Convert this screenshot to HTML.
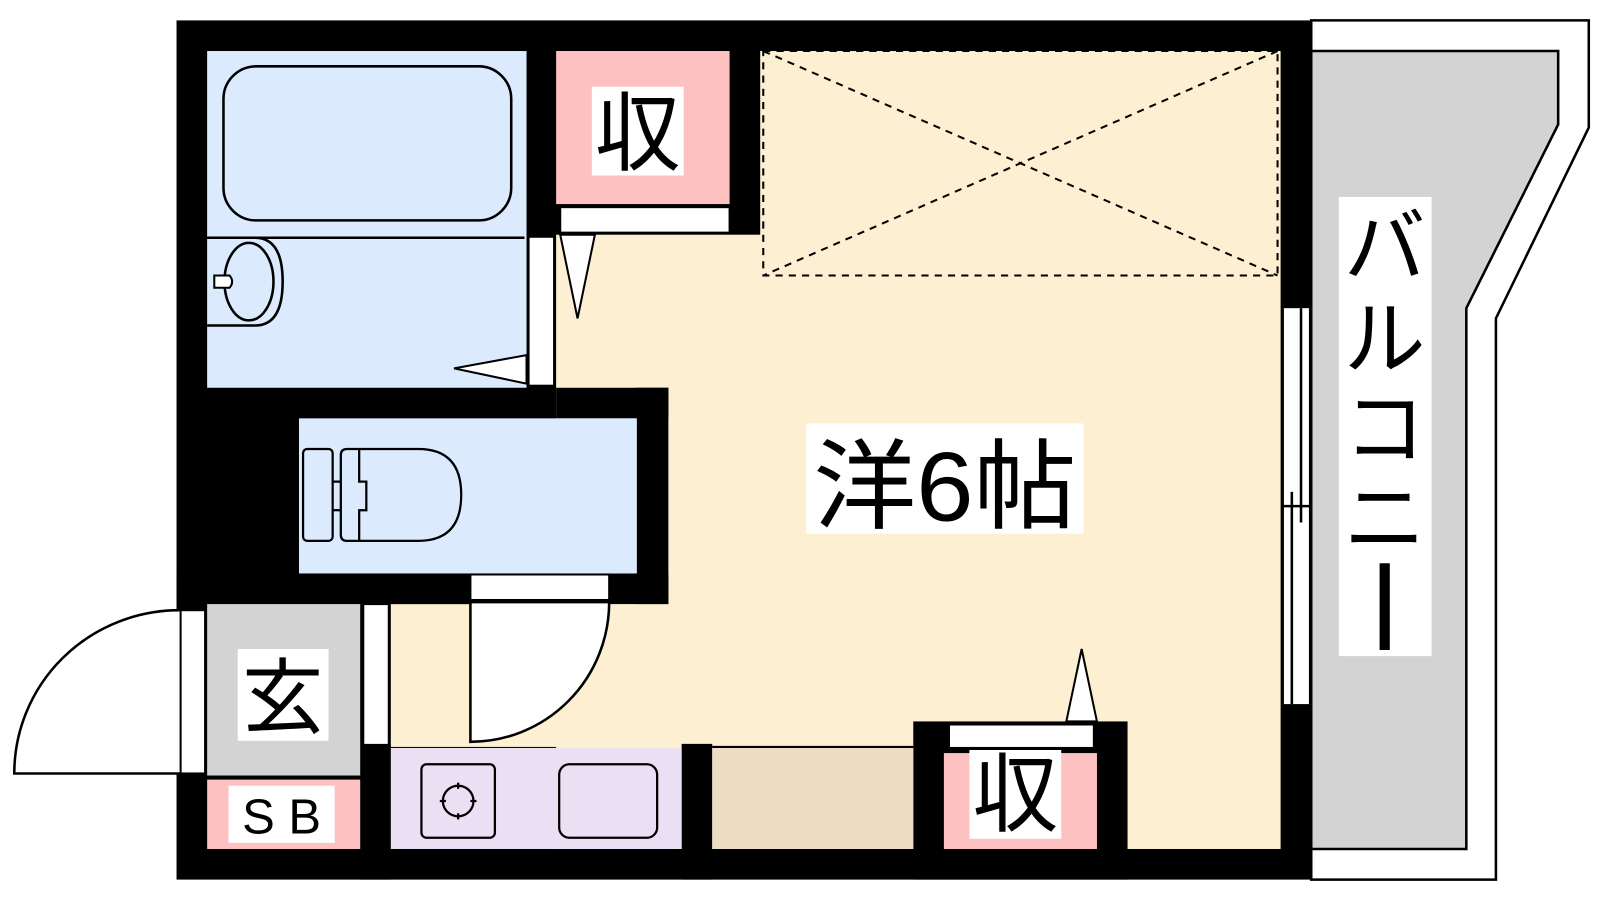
<!DOCTYPE html>
<html><head><meta charset="utf-8"><style>
html,body{margin:0;padding:0;background:#fff;width:1600px;height:900px;overflow:hidden}
svg{display:block}
text{font-family:"Liberation Sans","Noto Sans CJK JP",sans-serif;fill:#000}
</style></head><body>
<svg width="1600" height="900" viewBox="0 0 1568 882" preserveAspectRatio="none" xmlns="http://www.w3.org/2000/svg">
<!-- balcony -->
<polygon points="1285,20 1557,20 1557,125 1466,312 1466,862 1285,862" fill="#fff" stroke="#000" stroke-width="2.5"/>
<polygon points="1285,50 1527,50 1527,122 1437,302 1437,832 1285,832" fill="#d3d3d3" stroke="#000" stroke-width="2.5"/>
<!-- outer black -->
<rect x="173" y="20" width="1112" height="842" fill="#000"/>
<!-- room -->
<rect x="745" y="50" width="510" height="782" fill="#fdf0d2"/>
<rect x="545" y="230" width="215" height="602" fill="#fdf0d2"/>
<rect x="655" y="380" width="100" height="452" fill="#fdf0d2"/>
<rect x="383" y="592" width="300" height="140" fill="#fdf0d2"/>
<!-- black walls on top of room fill -->
<g fill="#000">
<rect x="545" y="380" width="110" height="30"/>
<rect x="624" y="380" width="31" height="212"/>
<rect x="173" y="562" width="482" height="30"/>
<rect x="353" y="730" width="30" height="132"/>
<rect x="668" y="729" width="30" height="133"/>
<rect x="895" y="707" width="210" height="155"/>
</g>
<!-- dashed rect -->
<g stroke="#000" stroke-width="2" stroke-dasharray="7,6" fill="none">
<rect x="748" y="50" width="504" height="220"/>
<line x1="748" y1="50" x2="1252" y2="270"/>
<line x1="1252" y1="50" x2="748" y2="270"/>
</g>
<!-- bath -->
<rect x="203" y="50" width="313" height="330" fill="#dbeafd"/>
<rect x="219" y="65" width="282" height="151" rx="32" fill="none" stroke="#000" stroke-width="2.5"/>
<line x1="203" y1="233" x2="514" y2="233" stroke="#000" stroke-width="2.5"/>
<path d="M203,233 H250 Q277,233 277,276 Q277,319 250,319 H203" fill="none" stroke="#000" stroke-width="2.5"/>
<ellipse cx="244" cy="276" rx="24" ry="38" fill="none" stroke="#000" stroke-width="2.5"/>
<path d="M210,270 H225 Q230,276 225,282 H210 Z" fill="#fff" stroke="#000" stroke-width="2"/>
<rect x="518" y="232" width="25" height="146" fill="#fff" stroke="#000" stroke-width="2"/>
<polygon points="516,348 445,361 516,376" fill="#fff" stroke="#000" stroke-width="2"/>
<!-- top closet -->
<rect x="545" y="50" width="170" height="150" fill="#fdc1c1"/>
<rect x="580" y="85" width="90" height="87" fill="#fff"/>
<text x="625" y="160" font-size="84" text-anchor="middle">収</text>
<rect x="549" y="203" width="166" height="25" fill="#fff" stroke="#000" stroke-width="2"/>
<polygon points="549,230 566,312 583,230" fill="#fff" stroke="#000" stroke-width="2"/>
<!-- toilet -->
<rect x="293" y="410" width="331" height="152" fill="#dbeafd"/>
<rect x="461" y="563" width="136" height="25" fill="#fff" stroke="#000" stroke-width="2"/>
<path d="M461,590 V727 A136,137 0 0 0 597,590 Z" fill="#fff" stroke="#000" stroke-width="2.5"/>
<g fill="none" stroke="#000" stroke-width="2.2">
<rect x="297" y="440" width="29" height="90" rx="4"/>
<path d="M340,440 H410 Q452,440 452,485 Q452,530 410,530 H340 Q334,530 334,524 V446 Q334,440 340,440 Z"/>
<path d="M352,440 V472 H359 V500 H352 V530"/>
<line x1="326" y1="472" x2="334" y2="472"/><line x1="326" y1="500" x2="334" y2="500"/>
</g>
<!-- entrance -->
<rect x="203" y="592" width="150" height="168" fill="#d3d3d3"/>
<rect x="233" y="636" width="89" height="90" fill="#fff"/>
<text x="277" y="712" font-size="80" text-anchor="middle">玄</text>
<rect x="177" y="598" width="24" height="160" fill="#fff" stroke="#000" stroke-width="2"/>
<path d="M176,598 A162,160 0 0 0 14,758 H176" fill="#fff" stroke="#000" stroke-width="2.5"/>
<rect x="356" y="592" width="25" height="138" fill="#fff" stroke="#000" stroke-width="2"/>
<!-- SB -->
<rect x="203" y="764" width="150" height="68" fill="#fdc1c1"/>
<rect x="224" y="770" width="104" height="56" fill="#fff"/>
<text x="276" y="817" font-size="48" text-anchor="middle">S B</text>
<!-- kitchen -->
<rect x="383" y="733" width="285" height="99" fill="#ebdff4"/>
<g fill="none" stroke="#000" stroke-width="2.2">
<rect x="413" y="749" width="72" height="72" rx="5"/>
<circle cx="449" cy="785" r="15"/>
<line x1="449" y1="767" x2="449" y2="773"/><line x1="449" y1="797" x2="449" y2="803"/>
<line x1="431" y1="785" x2="437" y2="785"/><line x1="461" y1="785" x2="467" y2="785"/>
<rect x="548" y="749" width="96" height="72" rx="10"/>
</g>
<rect x="698" y="733" width="197" height="99" fill="#ecdcc3"/>
<line x1="698" y1="732" x2="895" y2="732" stroke="#000" stroke-width="2"/>
<!-- bottom closet -->
<rect x="925" y="738" width="150" height="94" fill="#fdc1c1"/>
<rect x="950" y="735" width="90" height="87" fill="#fff"/>
<text x="995" y="808" font-size="84" text-anchor="middle">収</text>
<rect x="930" y="710" width="142" height="23" fill="#fff" stroke="#000" stroke-width="2"/>
<polygon points="1045,707 1060,636 1075,707" fill="#fff" stroke="#000" stroke-width="2"/>
<!-- window -->
<rect x="1256" y="302" width="29" height="388" fill="#fff"/>
<g stroke="#000" stroke-width="2.5">
<line x1="1257" y1="302" x2="1257" y2="690"/><line x1="1284" y1="302" x2="1284" y2="690"/>
<line x1="1275" y1="302" x2="1275" y2="512"/><line x1="1266" y1="482" x2="1266" y2="690"/>
<line x1="1257" y1="496" x2="1284" y2="496"/>
</g>
<!-- labels -->
<rect x="790" y="415" width="272" height="108" fill="#fff"/>
<text x="926" y="510" font-size="96" text-anchor="middle" textLength="258" lengthAdjust="spacingAndGlyphs">洋6帖</text>
<rect x="1312" y="193" width="91" height="450" fill="#fff"/>
<g font-size="80" text-anchor="middle">
<text x="1357" y="270">バ</text>
<text x="1357" y="360">ル</text>
<text x="1357" y="448">コ</text>
<text x="1357" y="536">ニ</text>
</g>
<rect x="1352" y="552" width="10" height="85" fill="#000"/>
</svg>
</body></html>
